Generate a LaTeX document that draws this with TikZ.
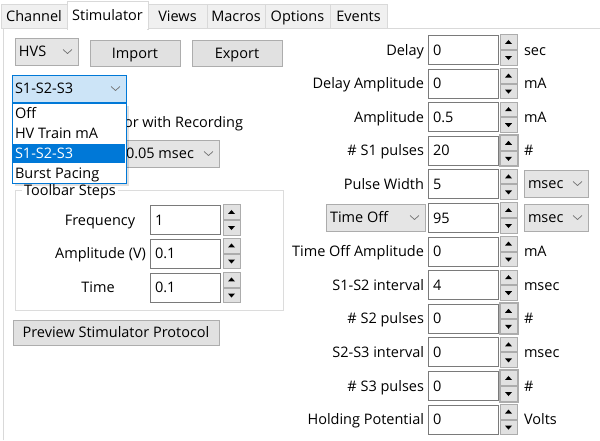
\documentclass[tikz,border=0pt]{standalone}
\usepackage{fontspec}
\setmainfont{Open Sans}
\usetikzlibrary{calc}
\definecolor{tabfill}{HTML}{F0F0F0}
\definecolor{tabline}{HTML}{D9D9D9}
\definecolor{btnfill}{HTML}{E1E1E1}
\definecolor{btnline}{HTML}{ADADAD}
\definecolor{cmbfill}{HTML}{E5E5E5}
\definecolor{cmbline}{HTML}{ACACAC}
\definecolor{boxline}{HTML}{7A7A7A}
\definecolor{selblue}{HTML}{0078D7}
\definecolor{ltblue}{HTML}{CCE4F7}
\definecolor{grpline}{HTML}{DCDCDC}
\definecolor{chevcol}{HTML}{707070}
\definecolor{txtcol}{HTML}{000000}
\newcommand\uifs{\fontsize{14.5}{17}\selectfont}
\tikzset{
  every node/.style={font=\uifs, inner sep=0pt, outer sep=0pt, text height=12.5pt, text depth=2.15pt, text=txtcol},
  tabbox/.style={draw=tabline, fill=tabfill, line width=1pt, minimum height=24pt, anchor=north west},
  seltab/.style={draw=tabline, fill=white, line width=1pt, minimum height=28pt, anchor=north west},
  btn/.style={draw=btnline, fill=btnfill, line width=1pt, anchor=north west},
  cmb/.style={draw=cmbline, fill=cmbfill, line width=1pt, anchor=north west},
  tbox/.style={draw=boxline, fill=white, line width=1pt, anchor=west, minimum width=70pt, minimum height=29pt},
  spinb/.style={draw=cmbline, fill=btnfill, line width=1pt, minimum width=17pt, minimum height=13pt},
  chev/.style={draw=chevcol, line width=0.7pt},
  lbl/.style={},
}
\newcommand\spinat[3]{%
  \node[spinb, anchor=south west] (#1a) at (#2,#3-0.5) {};
  \node[spinb, anchor=north west] (#1b) at (#2,#3+0.5) {};
  \fill[black] (#1a.center) ++(-3.5,1.8) -- ++(7,0) -- ++(-3.5,-4) -- cycle;
  \fill[black] (#1b.center) ++(-3.5,-1.8) -- ++(7,0) -- ++(-3.5,4) -- cycle;
}
\newcommand\combo[6]{%
  \node[cmb, minimum width=#4pt, minimum height=#5pt] (#1) at (#2,#3) {};
  \node[anchor=west] (#1x) at ($(#1.west)+(4,0)$) {#6};
  \draw[chev] ($(#1.east)+(-15,-2)$) -- ++(4.5,4) -- ++(4.5,-4);
}
\newcommand\rrow[5]{%
  \node[lbl, anchor=east] (#1l) at (424,#2) {#3};
  \node[tbox] (#1t) at (428,#2) {};
  \node[anchor=west] (#1v) at ($(#1t.west)+(5,0)$) {#4};
  \spinat{#1s}{500}{#2}
  \node[lbl, anchor=west] (#1u) at (524,#2) {#5};
}
\begin{document}
\begin{tikzpicture}[x=1pt,y=-1pt]
\useasboundingbox (0,0) rectangle (600,440);
\fill[white] (0,0) rectangle (600,440);
% tab strip
\node[tabbox, minimum width=66pt] (tch) at (1,4) {Channel};
\node[tabbox, minimum width=59pt] (tvi) at (148,4) {Views};
\node[tabbox, minimum width=58pt] (tma) at (207,4) {Macros};
\node[tabbox, minimum width=65pt] (top) at (265,4) {Options};
\node[tabbox, minimum width=57pt] (tev) at (330,4) {Events};
\draw[tabline, line width=1pt] (3,440) -- (3,28.5) -- (600,28.5);
\node[seltab, minimum width=81pt] (tst) at (67,1) {Stimulator};
\draw[white, line width=2pt] ($(tst.south west)+(1,0)$) -- ($(tst.south east)+(-1,0)$);
% top buttons
\combo{hvs}{15}{38}{63}{27}{HVS}
\node[btn, minimum width=90pt, minimum height=26pt] (imp) at (90,40) {Import};
\node[btn, minimum width=90pt, minimum height=26pt] (exp) at (192,40) {Export};
% hidden controls behind the list
\node[anchor=west] (rec) at (124,122) {or with Recording};
\combo{per}{122}{140}{97}{27}{0.05 msec}
% toolbar steps group
\draw[grpline, line width=1pt] (15,190) rectangle (283,310);
\node[anchor=west, fill=white, inner xsep=2pt] (grp) at (22,190) {Toolbar Steps};
\node[anchor=center] (fql) at (100,220) {Frequency};
\node[tbox] (fqt) at (150,220) {};
\node[anchor=west] (fqv) at ($(fqt.west)+(5,0)$) {1};
\spinat{fqs}{223}{220}
\node[anchor=east] (aml) at (146,253.5) {Amplitude (V)};
\node[tbox] (amt) at (150,253.5) {};
\node[anchor=west] (amv) at ($(amt.west)+(5,0)$) {0.1};
\spinat{ams}{223}{253.5}
\node[anchor=center] (tml) at (98,287.5) {Time};
\node[tbox] (tmt) at (150,287.5) {};
\node[anchor=west] (tmv) at ($(tmt.west)+(5,0)$) {0.1};
\spinat{tms}{223}{287.5}
\node[btn, minimum width=206pt, minimum height=25pt] (prev) at (13,320) {Preview Stimulator Protocol};
% mode combo (open)
\node[draw=selblue, fill=ltblue, line width=1pt, anchor=north west, minimum width=114pt, minimum height=27pt] (mode) at (12,75) {};
\node[anchor=west] (modex) at ($(mode.west)+(3,0)$) {S1-S2-S3};
\draw[chev] ($(mode.east)+(-15,-2)$) -- ++(4.5,4) -- ++(4.5,-4);
\fill[black, opacity=0.12] (15,106) rectangle (129,186);
\node[draw=selblue, fill=white, line width=1pt, anchor=north west, minimum width=114pt, minimum height=80pt] (lst) at (12,103) {};
\node[fill=selblue, anchor=north west, minimum width=112pt, minimum height=19.5pt] (hl) at (13,143.5) {};
\node[anchor=west] (i1) at (15,113) {Off};
\node[anchor=west] (i2) at (15,133.5) {HV Train mA};
\node[anchor=west, text=white] (i3) at (15,153) {S1-S2-S3};
\node[anchor=west] (i4) at (15,173) {Burst Pacing};
% right column
\rrow{r0}{50}{Delay}{0}{sec}
\rrow{r1}{83.6}{Delay Amplitude}{0}{mA}
\rrow{r2}{117.2}{Amplitude}{0.5}{mA}
\rrow{r3}{150.8}{\# S1 pulses}{20}{\#}
\rrow{r4}{184.4}{Pulse Width}{5}{}
\combo{pwu}{524}{170}{64}{27}{msec}
% time off row
\combo{tof}{326}{204}{99}{27}{Time Off}
\node[tbox] (r5t) at (428,218) {};
\node[anchor=west] (r5v) at ($(r5t.west)+(5,0)$) {95};
\spinat{r5s}{500}{218}
\combo{tou}{524}{204}{64}{27}{msec}
\rrow{r6}{251.6}{Time Off Amplitude}{0}{mA}
\rrow{r7}{285.2}{S1-S2 interval}{4}{msec}
\rrow{r8}{318.8}{\# S2 pulses}{0}{\#}
\rrow{r9}{352.4}{S2-S3 interval}{0}{msec}
\rrow{r10}{386}{\# S3 pulses}{0}{\#}
\rrow{r11}{419.6}{Holding Potential}{0}{Volts}
% focus frames around some spinners
\draw[btnline, line width=1pt] ($(r3sa.north west)+(-1,-1)$) rectangle ($(r3sb.south east)+(1,1)$);
\draw[btnline, line width=1pt] ($(r8sa.north west)+(-1,-1)$) rectangle ($(r8sb.south east)+(1,1)$);
\draw[btnline, line width=1pt] ($(r10sa.north west)+(-1,-1)$) rectangle ($(r10sb.south east)+(1,1)$);
\end{tikzpicture}
\end{document}
